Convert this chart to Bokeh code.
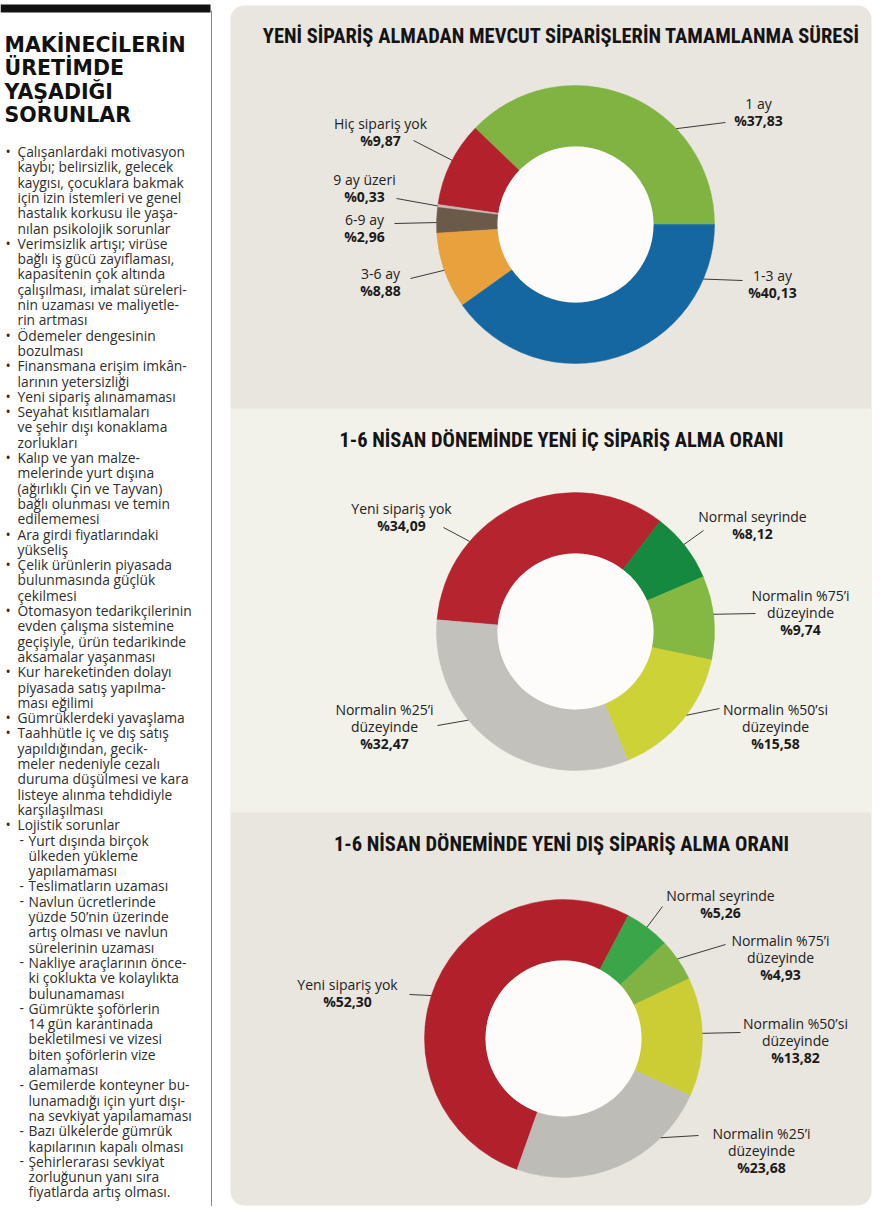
import numpy as np
from bokeh.plotting import figure
from bokeh.models import Range1d
from bokeh.core.properties import value
from bokeh.embed import file_html
from bokeh.resources import INLINE

# ---------------- data ----------------
side_title = ["MAKİNECİLERİN", "ÜRETİMDE", "YAŞADIĞI", "SORUNLAR"]

# kind: b = bullet start, c = continuation, s = sub-item start, sc = sub continuation
side_kinds = ["b", "c", "c", "c", "c", "c",
              "b", "c", "c", "c", "c", "c",
              "b", "c",
              "b", "c",
              "b",
              "b", "c", "c",
              "b", "c", "c", "c", "c",
              "b", "c",
              "b", "c", "c",
              "b", "c", "c", "c",
              "b", "c", "c",
              "b",
              "b", "c", "c", "c", "c", "c",
              "b",
              "s", "sc", "sc",
              "s",
              "s", "sc", "sc", "sc",
              "s", "sc", "sc",
              "s", "sc", "sc", "sc", "sc",
              "s", "sc", "sc",
              "s", "sc",
              "s", "sc", "sc"]
side_lines = [
    "Çalışanlardaki motivasyon", "kaybı; belirsizlik, gelecek", "kaygısı, çocuklara bakmak",
    "için izin istemleri ve genel", "hastalık korkusu ile yaşa-", "nılan psikolojik sorunlar",
    "Verimsizlik artışı; virüse", "bağlı iş gücü zayıflaması,", "kapasitenin çok altında",
    "çalışılması, imalat süreleri-", "nin uzaması ve maliyetle-", "rin artması",
    "Ödemeler dengesinin", "bozulması",
    "Finansmana erişim imkân-", "larının yetersizliği",
    "Yeni sipariş alınamaması",
    "Seyahat kısıtlamaları", "ve şehir dışı konaklama", "zorlukları",
    "Kalıp ve yan malze-", "melerinde yurt dışına", "(ağırlıklı Çin ve Tayvan)",
    "bağlı olunması ve temin", "edilememesi",
    "Ara girdi fiyatlarındaki", "yükseliş",
    "Çelik ürünlerin piyasada", "bulunmasında güçlük", "çekilmesi",
    "Otomasyon tedarikçilerinin", "evden çalışma sistemine", "geçişiyle, ürün tedarikinde",
    "aksamalar yaşanması",
    "Kur hareketinden dolayı", "piyasada satış yapılma-", "ması eğilimi",
    "Gümrüklerdeki yavaşlama",
    "Taahhütle iç ve dış satış", "yapıldığından, gecik-", "meler nedeniyle cezalı",
    "duruma düşülmesi ve kara", "listeye alınma tehdidiyle", "karşılaşılması",
    "Lojistik sorunlar",
    "Yurt dışında birçok", "ülkeden yükleme", "yapılamaması",
    "Teslimatların uzaması",
    "Navlun ücretlerinde", "yüzde 50’nin üzerinde", "artış olması ve navlun", "sürelerinin uzaması",
    "Nakliye araçlarının önce-", "ki çoklukta ve kolaylıkta", "bulunamaması",
    "Gümrükte şoförlerin", "14 gün karantinada", "bekletilmesi ve vizesi",
    "biten şoförlerin vize", "alamaması",
    "Gemilerde konteyner bu-", "lunamadığı için yurt dışı-", "na sevkiyat yapılamaması",
    "Bazı ülkelerde gümrük", "kapılarının kapalı olması",
    "Şehirlerarası sevkiyat", "zorluğunun yanı sıra", "fiyatlarda artış olması.",
]

c1_title = "YENİ SİPARİŞ ALMADAN MEVCUT SİPARİŞLERİN TAMAMLANMA SÜRESİ"
c1_labels = [["1 ay"], ["Hiç sipariş yok"], ["9 ay üzeri"], ["6-9 ay"], ["3-6 ay"], ["1-3 ay"]]
c1_values = [37.83, 9.87, 0.33, 2.96, 8.88, 40.13]

c2_title = "1-6 NİSAN DÖNEMİNDE YENİ İÇ SİPARİŞ ALMA ORANI"
c2_labels = [["Yeni sipariş yok"], ["Normal seyrinde"], ["Normalin %75’i", "düzeyinde"],
             ["Normalin %50’si", "düzeyinde"], ["Normalin %25’i", "düzeyinde"]]
c2_values = [34.09, 8.12, 9.74, 15.58, 32.47]

c3_title = "1-6 NİSAN DÖNEMİNDE YENİ DIŞ SİPARİŞ ALMA ORANI"
c3_labels = [["Yeni sipariş yok"], ["Normal seyrinde"], ["Normalin %75’i", "düzeyinde"],
             ["Normalin %50’si", "düzeyinde"], ["Normalin %25’i", "düzeyinde"]]
c3_values = [52.30, 5.26, 4.93, 13.82, 23.68]

# ---------------- styles / layout ----------------
c1_colors = ["#80b341", "#b3212c", "#cdb7b3", "#6b5a4a", "#e8a13d", "#1467a1"]
c2_colors = ["#b5242f", "#15893f", "#84b843", "#cdd237", "#c2c1bb"]
c3_colors = ["#b1202b", "#3ba549", "#80b343", "#cccd34", "#bdbcb6"]

BODY_FONT = value("Open Sans")
TITLE_FONT = value("Roboto Condensed")
SIDE_TITLE_FONT = value("DejaVu Sans")

W, H = 872, 1206
p = figure(width=W, height=H, x_range=Range1d(0, W), y_range=Range1d(-H, 0),
           output_backend="svg", toolbar_location=None, x_axis_type=None, y_axis_type=None,
           min_border=0)
p.grid.visible = False
p.outline_line_color = None
p.background_fill_color = "#ffffff"
p.border_fill_color = "#ffffff"


def Y(s):
    return -np.asarray(s, dtype=float)


# ---- left column ----
p.quad(left=0, right=210, top=Y(4), bottom=Y(12), fill_color="#111111", line_color=None)
p.segment(x0=[211], y0=Y([10]), x1=[211], y1=Y([1206]), line_color="#8a8a8a", line_width=1)

p.text(x=[4] * len(side_title), y=Y([44 + 23.5 * i for i in range(len(side_title))]),
       text=side_title, text_font=SIDE_TITLE_FONT, text_font_style="bold",
       text_font_size="20.5px", text_color="#111111", text_baseline="middle", text_align="left")

line_y = [151 + 15.3 * i for i in range(len(side_lines))]
indent = {"b": 17, "c": 17, "s": 28, "sc": 28}
tx = [indent[k] for k in side_kinds]
p.text(x=tx, y=Y(line_y), text=side_lines, text_font=BODY_FONT, text_font_size="13.8px",
       text_color="#2e2e2e", text_baseline="middle", text_align="left")
bx, by, bt = [], [], []
for k, yy in zip(side_kinds, line_y):
    if k == "b":
        bx.append(5); by.append(yy); bt.append("•")
    elif k == "s":
        bx.append(19); by.append(yy); bt.append("-")
p.text(x=bx, y=Y(by), text=bt, text_font=BODY_FONT, text_font_size="13.8px",
       text_color="#2e2e2e", text_baseline="middle", text_align="left")

# ---- right panel ----
p.quad(left=230, right=871, top=Y(5), bottom=Y(1205), fill_color="#e9e5df", line_color=None,
       border_radius=14)
p.quad(left=230, right=871, top=Y(408), bottom=Y(812), fill_color="#f2f1ea", line_color=None)

p.text(x=[561, 561, 561], y=Y([35, 439, 843]), text=[c1_title, c2_title, c3_title],
       text_font=TITLE_FONT, text_font_style="bold", text_font_size="20.5px",
       text_color="#141414", text_baseline="middle", text_align="center")

R_OUT, R_IN = 139, 78


def fmt(v):
    return "%" + f"{v:.2f}".replace(".", ",")


def donut(values, colors, labels, cx, cy, start, clockwise, fracs, ends, anchors):
    v = np.asarray(values, dtype=float)
    cum = np.concatenate([[0.0], np.cumsum(v / v.sum())]) * 360.0
    if clockwise:
        a0, a1 = start - cum[1:], start - cum[:-1]
    else:
        a0, a1 = start + cum[:-1], start + cum[1:]
    p.annular_wedge(x=cx, y=-cy, inner_radius=R_IN, outer_radius=R_OUT,
                    start_angle=np.radians(a0), end_angle=np.radians(a1),
                    direction="anticlock",
                    fill_color=colors, line_color=colors, line_width=0.5)
    p.circle(x=[cx], y=[-cy], radius=R_IN, fill_color="#fdfcfa", line_color=None)
    # leaders
    sgn = -1 if clockwise else 1
    ang = np.radians(start + sgn * (cum[:-1] + np.asarray(fracs) * np.diff(cum)))
    x0 = cx + R_OUT * np.cos(ang)
    y0 = -cy + R_OUT * np.sin(ang)
    p.segment(x0=x0, y0=y0, x1=[e[0] for e in ends], y1=Y([e[1] for e in ends]),
              line_color="#3a3a3a", line_width=1)
    nx, ny, nt, vx, vy, vt = [], [], [], [], [], []
    for lab, val, (ax, ay) in zip(labels, values, anchors):
        for j, ln in enumerate(lab):
            nx.append(ax); ny.append(ay + 17 * j); nt.append(ln)
        vx.append(ax); vy.append(ay + 17 * len(lab)); vt.append(fmt(val))
    p.text(x=nx, y=Y(ny), text=nt, text_font=BODY_FONT, text_font_size="14px",
           text_color="#222222", text_baseline="middle", text_align="center")
    p.text(x=vx, y=Y(vy), text=vt, text_font=BODY_FONT, text_font_style="bold",
           text_font_size="14px", text_color="#1a1a1a", text_baseline="middle",
           text_align="center")


donut(c1_values, c1_colors, c1_labels, 575, 224, 0.0, False,
      fracs=[0.32, 0.46, 0.5, 0.59, 0.49, 0.84],
      ends=[(725, 122), (413, 140), (396, 198), (394, 223), (410, 278), (742, 280)],
      anchors=[(758, 103), (380, 123), (364, 179), (364, 219), (380, 273), (772, 275)])

donut(c2_values, c2_colors, c2_labels, 575, 631, 175.2, True,
      fracs=[0.29, 0.47, 0.46, 0.45, 0.62],
      ends=[(443, 527), (703, 530), (755, 613), (719, 708), (437, 725)],
      anchors=[(401, 508), (752, 516), (800, 595), (775, 709), (384, 709)])

donut(c3_values, c3_colors, c3_labels, 563, 1038, 250.5, True,
      fracs=[0.47, 0.48, 0.47, 0.47, 0.25],
      ends=[(409, 994), (662, 906), (725, 944), (740, 1032), (698, 1135)],
      anchors=[(347, 984), (720, 895), (780, 940), (795, 1023), (761, 1133)])

open("out.html", "w").write(file_html(p, INLINE))
